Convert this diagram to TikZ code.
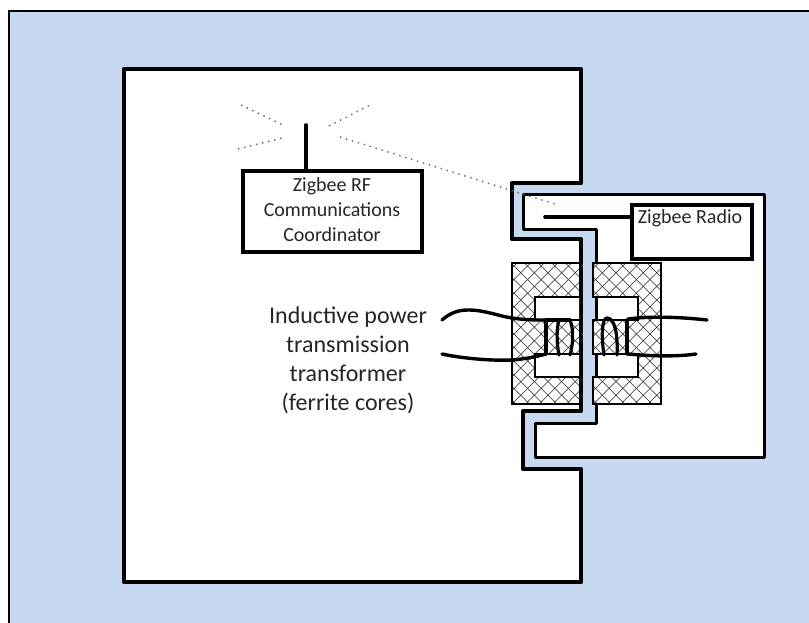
\documentclass[tikz,border=0pt]{standalone}
\usepackage{fontspec}
\setmainfont{Carlito}
\usetikzlibrary{calc}
\definecolor{bgblue}{HTML}{C6D9F1}
\definecolor{txt}{HTML}{262626}
\tikzset{
  wall/.style={draw=black,line width=4.2pt,fill=white,line join=round},
  thinwall/.style={draw=black,line width=3pt,fill=white,line join=round},
  radiobox/.style={draw=black,line width=4pt,fill=white,minimum width=#1,inner sep=0pt,outer sep=0pt},
  signal/.style={line width=1.4pt,dash pattern=on 1.4pt off 4.8pt,draw=black!60},
  stalk/.style={line width=3.6pt,line cap=round},
  wire/.style={line width=3.4pt,line cap=round},
  turn/.style={line width=3.2pt,line cap=round},
  hatch/.style={line width=0.55pt,draw=black!85},
  core/.style={draw=black,line width=1.1pt},
  smalltext/.style={text=txt,align=center,inner sep=0pt,font=\fontsize{20}{25}\selectfont},
  bigtext/.style={text=txt,align=center,inner sep=0pt,font=\fontsize{24}{29}\selectfont},
}
\newcommand{\hatchfill}[4]{%
  \fill[white] (#1,#2) rectangle (#3,#4);
  \begin{scope}
    \clip (#1,#2) rectangle (#3,#4);
    \foreach \c in {0,1,...,90}{
      \draw[hatch] (\c*13.6,100) -- (\c*13.6-400,500);
      \draw[hatch] (\c*13.6-400,100) -- (\c*13.6,500);
    }
  \end{scope}}
\begin{document}
\begin{tikzpicture}[x=1pt,y=-1pt]
\useasboundingbox (0,0) rectangle (809,623);
% background
\fill[bgblue] (9,11) rectangle (809,623);
\draw[line width=1.2pt] (9,623) -- (9,11) -- (809,11);
% base unit outline
\path[wall] (124,69) -- (581,69) -- (581,183) -- (512,183) -- (512,239) -- (581,239)
  -- (581,411) -- (523,411) -- (523,469) -- (581,469) -- (581,582) -- (124,582) -- cycle;
% plug-in module outline
\path[thinwall] (523,195) -- (764,195) -- (764,457) -- (535,457) -- (535,423) -- (596,423)
  -- (596,229) -- (523,229) -- cycle;
% blue gap between the walls
\fill[bgblue] (583.5,263) rectangle (594.5,404);
% left ferrite core
\hatchfill{512}{263}{579}{404}
\fill[white] (535,297) rectangle (579,320) (535,354) rectangle (579,377);
\draw[core] (579,263) -- (512,263) -- (512,404) -- (579,404) (579,377) -- (535,377) -- (535,354) -- (579,354)
  (579,320) -- (535,320) -- (535,297) -- (579,297);
% right ferrite core
\hatchfill{593}{263}{661}{297}
\hatchfill{593}{320}{661}{354}
\hatchfill{593}{377}{661}{404}
\hatchfill{638}{297}{661}{320}
\hatchfill{638}{354}{661}{377}
\draw[core] (593,263) -- (661,263) -- (661,404) -- (593,404) -- (593,377) -- (638,377) -- (638,354) -- (593,354) -- (593,320) -- (638,320) -- (638,297) -- (593,297) -- cycle;
% windings
\draw[wire] (442,320) .. controls (450,313) and (458,310) .. (468,310) .. controls (485,310) and (498,316) .. (512,318) .. controls (525,320) and (535,320) .. (546,320);
\draw[wire] (442,354) .. controls (460,358) and (490,361) .. (512,360) .. controls (525,359) and (535,357) .. (546,354);
\draw[wire] (628,319) .. controls (650,316) and (680,317) .. (707,320);
\draw[wire] (628,354) .. controls (650,356) and (675,357) .. (696,354);
\draw[turn] (546,320) -- (546,354);
\draw[turn] (546,320) -- (570,320);
\draw[turn] (559,320) .. controls (556,330) and (557,345) .. (559,355);
\draw[turn] (570,320) .. controls (574,330) and (573,345) .. (570,355);
\draw[turn] (604,355) .. controls (601,335) and (602,318) .. (607,318) .. controls (615,318) and (618,335) .. (617,355);
\draw[turn] (627,320) -- (627,354);
% coordinator and radio
\node[radiobox=179pt,minimum height=81pt,anchor=north west] (coord) at (243,171) {};
\node[smalltext] (coordtext) at (332,210) {Zigbee RF\\Communications\\Coordinator};
\node[radiobox=120pt,minimum height=54pt,anchor=north west] (radio) at (632,205) {};
\node[smalltext] (radiotext) at (690,218) {Zigbee Radio};
\coordinate (anttip) at (306,125);
\coordinate (anttail) at (545,217);
\draw[stalk] (anttip) -- (anttip |- coord.north);
\draw[stalk] (anttail) -- (anttail -| radio.west);
% radio signal marks
\coordinate (s1a) at (241,105); \coordinate (s1b) at (285,126);
\coordinate (s2a) at (238,149); \coordinate (s2b) at (286,137);
\coordinate (s3a) at (329,126); \coordinate (s3b) at (372,104);
\coordinate (s4a) at (340,137); \coordinate (s4b) at (558,205);
\draw[signal] (s1a) -- (s1b);
\draw[signal] (s2a) -- (s2b);
\draw[signal] (s3a) -- (s3b);
\draw[signal] (s4a) -- (s4b);
\node[bigtext] (label) at (348,360) {Inductive power\\transmission\\transformer\\(ferrite cores)};
\end{tikzpicture}
\end{document}
